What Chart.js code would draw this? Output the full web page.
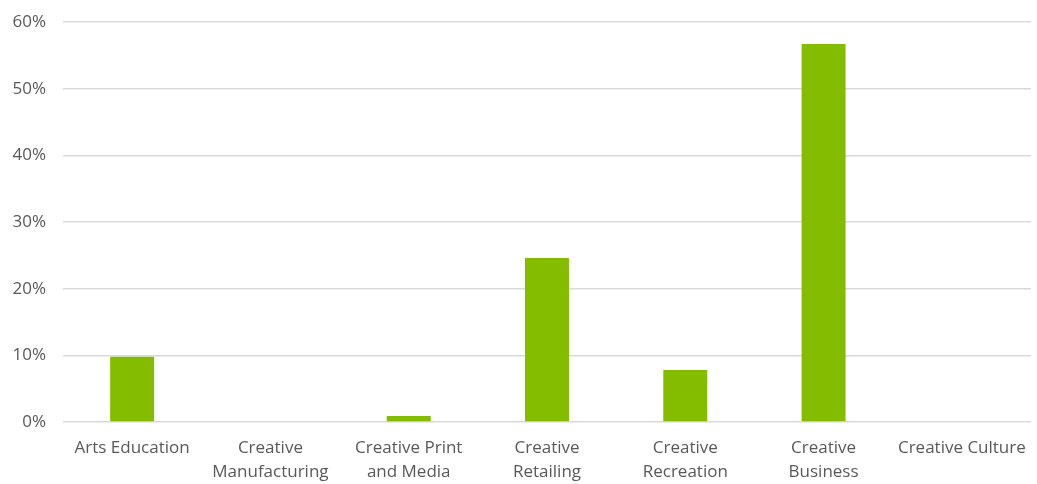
<!DOCTYPE html>
<html>
<head>
<meta charset="utf-8">
<script src="https://cdn.jsdelivr.net/npm/chart.js@4/dist/chart.umd.min.js"></script>
<style>
  html, body { margin: 0; padding: 0; background: #fff; }
  #wrap { width: 1037px; height: 484px; }
</style>
</head>
<body>
<div id="wrap"><canvas id="chart-bar1"></canvas></div>
<script>
// data
const categories = [
    'Arts Education',
    ['Creative', 'Manufacturing'],
    ['Creative Print', 'and Media'],
    ['Creative', 'Retailing'],
    ['Creative', 'Recreation'],
    ['Creative', 'Business'],
    'Creative Culture'
];
const shares = [9.8, 0, 0.9, 24.6, 7.8, 56.7, 0];
const yTicks = [0, 10, 20, 30, 40, 50, 60];

const textColor = '#595959';
const gridColor = '#d9d9d9';

let container = document.getElementById('chart-bar1');
let graph = new Chart(container, {
    type: 'bar',
    data: {
        labels: categories,
        datasets: [{
            data: shares,
            backgroundColor: '#84bd00',
            categoryPercentage: 1,
            barPercentage: 0.318
        }]
    },
    options: {
        responsive: true,
        maintainAspectRatio: false,
        animation: false,
        layout: {
            padding: { top: 22, right: 6, bottom: 0, left: 0 }
        },
        plugins: {
            legend: { display: false },
            tooltip: { enabled: false }
        },
        scales: {
            x: {
                grid: { display: false },
                border: { display: false },
                ticks: {
                    color: textColor,
                    font: { family: 'Open Sans', size: 17, lineHeight: 1.42 },
                    maxRotation: 0,
                    autoSkip: false,
                    padding: 6
                },
                afterFit: function(scale) { scale.height = 62; }
            },
            y: {
                min: 0,
                max: 60,
                afterBuildTicks: function(scale) {
                    scale.ticks = yTicks.map(v => ({ value: v }));
                },
                grid: { color: gridColor, lineWidth: 1.5, drawTicks: false },
                border: { display: false },
                ticks: {
                    color: textColor,
                    font: { family: 'Open Sans', size: 17 },
                    padding: 17,
                    callback: v => v + '%'
                },
                afterFit: function(scale) {
                    scale.width = 63;
                    scale.paddingTop = 0;
                    scale.paddingBottom = 0;
                }
            }
        }
    }
});
</script>
</body>
</html>
